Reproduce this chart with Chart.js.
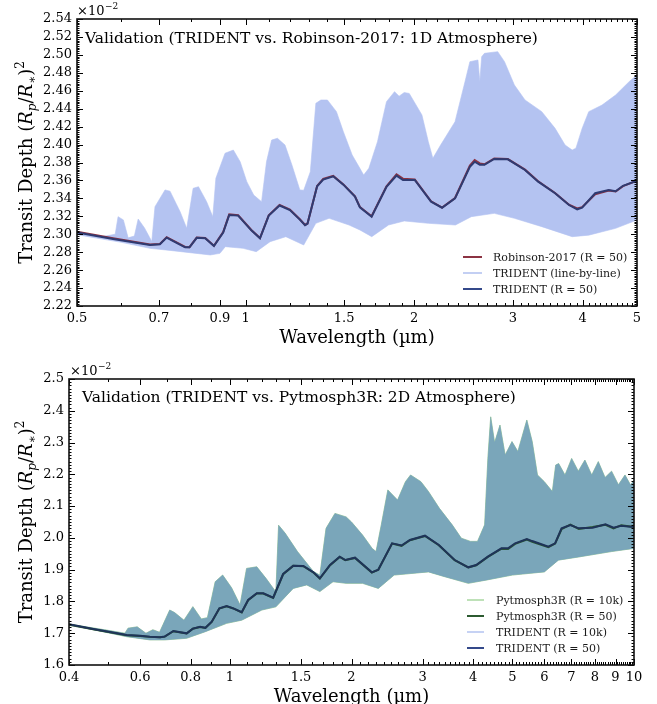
<!DOCTYPE html>
<html><head><meta charset="utf-8">
<script src="https://cdn.jsdelivr.net/npm/chart.js@4.4.0/dist/chart.umd.min.js"></script>
<style>
html,body{margin:0;padding:0;background:#fff;}
#wrap{position:relative;width:657px;height:704px;overflow:hidden;background:#fff;}
.box{position:absolute;left:0;width:657px;height:352px;}
canvas{display:block;}
</style></head><body>
<div id="wrap">
<div class="box" style="top:0"><canvas id="c1" width="657" height="352"></canvas></div>
<div class="box" style="top:352px"><canvas id="c2" width="657" height="352"></canvas></div>
</div>
<script>
// ---------- TOP PANEL DATA (values in units of 1e-2) ----------
const topXTicks = [0.5, 0.7, 0.9, 1, 1.5, 2, 3, 4, 5];
const topXTickLabels = ['0.5', '0.7', '0.9', '1', '1.5', '2', '3', '4', '5'];
const topYTicks = [2.22,2.24,2.26,2.28,2.30,2.32,2.34,2.36,2.38,2.40,2.42,2.44,2.46,2.48,2.50,2.52,2.54];
const topYTickLabels = ['2.22','2.24','2.26','2.28','2.30','2.32','2.34','2.36','2.38','2.40','2.42','2.44','2.46','2.48','2.50','2.52','2.54'];

const topR50Wl = [0.5,0.58,0.675,0.703,0.723,0.75,0.78,0.794,0.818,0.847,0.878,0.912,0.935,0.97,1.025,1.061,1.10,1.15,1.2,1.25,1.277,1.29,1.342,1.376,1.434,1.495,1.568,1.60,1.679,1.785,1.86,1.91,2.005,2.144,2.243,2.366,2.515,2.565,2.62,2.67,2.78,2.94,3.155,3.33,3.57,3.78,3.91,3.99,4.21,4.45,4.58,4.72,5.0];
const topTrident50 = [2.302,2.2947,2.288,2.2888,2.2962,2.291,2.2854,2.2854,2.296,2.2955,2.2868,2.302,2.3215,2.3208,2.3041,2.2955,2.3208,2.332,2.327,2.3163,2.31,2.3118,2.3535,2.361,2.3646,2.3553,2.3419,2.33,2.3196,2.353,2.3653,2.3605,2.3605,2.3363,2.3296,2.34,2.3753,2.3809,2.3775,2.3775,2.3839,2.3835,2.3717,2.3586,2.3457,2.3326,2.3278,2.3296,2.3457,2.3493,2.348,2.354,2.3597];
const topRobinson50 = [2.3028,2.2955,2.2885,2.2892,2.2968,2.2914,2.2858,2.2856,2.2963,2.2958,2.2872,2.3024,2.3222,2.3212,2.3045,2.2958,2.3212,2.3328,2.3275,2.3167,2.3104,2.312,2.3538,2.3618,2.365,2.3556,2.3422,2.3304,2.32,2.3534,2.3668,2.362,2.361,2.3368,2.3298,2.3404,2.3765,2.3828,2.379,2.378,2.3845,2.3838,2.372,2.359,2.346,2.333,2.3288,2.3302,2.3445,2.3488,2.3476,2.3536,2.3597];

const topLblUpWl = [0.5,0.55,0.585,0.592,0.605,0.617,0.633,0.643,0.66,0.68,0.689,0.718,0.733,0.764,0.785,0.806,0.824,0.852,0.874,0.885,0.919,0.951,0.978,1.005,1.034,1.068,1.09,1.113,1.14,1.176,1.21,1.25,1.27,1.305,1.335,1.363,1.40,1.453,1.495,1.55,1.60,1.625,1.66,1.72,1.785,1.845,1.88,1.92,1.96,2.065,2.12,2.16,2.23,2.366,2.465,2.515,2.6,2.62,2.64,2.67,2.82,2.9,3.02,3.155,3.38,3.57,3.72,3.83,3.89,3.99,4.1,4.33,4.58,4.84,5.0];
const topLblUp = [2.3035,2.297,2.300,2.3196,2.316,2.296,2.298,2.317,2.307,2.292,2.3307,2.3494,2.348,2.3252,2.3066,2.3512,2.353,2.3363,2.3196,2.3624,2.3903,2.3939,2.3809,2.3586,2.3437,2.3363,2.381,2.405,2.407,2.3995,2.3772,2.3494,2.349,2.3697,2.446,2.4497,2.4497,2.4367,2.4143,2.3884,2.3735,2.366,2.3735,2.4032,2.4478,2.459,2.454,2.458,2.457,2.433,2.4032,2.3847,2.3995,2.4255,2.4701,2.4924,2.4943,2.47,2.498,2.5017,2.5036,2.4924,2.4664,2.4497,2.4367,2.4181,2.3995,2.3939,2.396,2.418,2.4367,2.444,2.4553,2.4701,2.4776];
const topLblLowWl = [0.5,0.6,0.675,0.733,0.865,0.9,0.92,0.99,1.045,1.106,1.18,1.27,1.335,1.41,1.53,1.60,1.68,1.80,1.92,2.12,2.37,2.53,2.78,3.02,3.38,3.83,4.1,4.58,5.0];
const topLblLow = [2.2995,2.291,2.2843,2.282,2.2769,2.2787,2.2862,2.2843,2.2806,2.2917,2.2973,2.288,2.3122,2.3178,2.3103,2.3048,2.2973,2.3103,2.3148,2.3122,2.3103,2.3196,2.3233,2.3178,2.3085,2.2973,2.299,2.3066,2.3159];

// ---------- BOTTOM PANEL DATA ----------
const botXTicks = [0.4,0.6,0.8,1,1.5,2,3,4,5,6,7,8,9,10];
const botXTickLabels = ['0.4','0.6','0.8','1','1.5','2','3','4','5','6','7','8','9','10'];
const botYTicks = [1.6,1.7,1.8,1.9,2.0,2.1,2.2,2.3,2.4,2.5];
const botYTickLabels = ['1.6','1.7','1.8','1.9','2.0','2.1','2.2','2.3','2.4','2.5'];

const botR50Wl = [0.4,0.459,0.556,0.6,0.634,0.672,0.69,0.725,0.782,0.81,0.844,0.87,0.902,0.942,0.982,1.02,1.07,1.11,1.166,1.21,1.28,1.355,1.435,1.52,1.61,1.67,1.77,1.87,1.93,2.04,2.246,2.33,2.52,2.66,2.79,3.04,3.29,3.6,3.89,4.07,4.35,4.7,4.88,5.08,5.43,5.6,6.14,6.38,6.62,6.96,7.3,7.9,8.5,8.9,9.3,9.8,10];
const botTrident50 = [1.728,1.7133,1.6944,1.692,1.689,1.6876,1.6895,1.7069,1.6997,1.7145,1.7206,1.717,1.7363,1.7784,1.7856,1.7784,1.766,1.8045,1.8256,1.8256,1.8118,1.8864,1.9126,1.9116,1.8917,1.8728,1.9147,1.9408,1.9304,1.9377,1.8917,1.9,1.983,1.976,1.9934,2.007,1.9777,1.9304,1.9074,1.9147,1.9408,1.9672,1.9672,1.983,1.9965,1.990,1.9723,1.983,2.0302,2.0406,2.030,2.032,2.0426,2.032,2.038,2.035,2.035];
const botPyt50 = [1.727,1.7128,1.6938,1.6915,1.6885,1.687,1.6892,1.7062,1.6992,1.714,1.7198,1.7165,1.7355,1.7778,1.785,1.778,1.7655,1.804,1.825,1.825,1.8112,1.886,1.912,1.911,1.8912,1.8722,1.914,1.94,1.93,1.937,1.891,1.8995,1.982,1.975,1.9925,2.006,1.977,1.93,1.907,1.914,1.94,1.966,1.965,1.981,1.995,1.988,1.971,1.982,2.028,2.042,2.028,2.034,2.041,2.03,2.04,2.036,2.034];

const bot10kUpWl = [0.4,0.5,0.55,0.56,0.59,0.62,0.645,0.67,0.71,0.73,0.77,0.81,0.85,0.88,0.92,0.96,1.01,1.06,1.10,1.166,1.23,1.30,1.32,1.37,1.47,1.61,1.67,1.73,1.82,1.94,2.0,2.13,2.25,2.30,2.37,2.46,2.6,2.72,2.8,2.97,3.1,3.3,3.55,3.74,3.94,4.1,4.27,4.35,4.42,4.52,4.66,4.8,4.99,5.16,5.43,5.6,5.77,6.0,6.28,6.4,6.51,6.75,7.01,7.28,7.56,7.86,8.16,8.48,8.8,9.15,9.5,9.8,10];
const bot10kUp = [1.729,1.709,1.700,1.716,1.72,1.700,1.711,1.703,1.773,1.765,1.741,1.7836,1.745,1.749,1.862,1.883,1.843,1.789,1.904,1.909,1.872,1.83,2.040,2.015,1.957,1.894,1.883,2.030,2.077,2.066,2.05,2.009,1.967,1.957,2.041,2.151,2.119,2.177,2.198,2.177,2.146,2.093,2.041,1.999,1.989,1.989,2.041,2.2505,2.381,2.30,2.355,2.261,2.303,2.272,2.371,2.303,2.198,2.177,2.146,2.229,2.234,2.198,2.25,2.21,2.245,2.198,2.24,2.19,2.21,2.167,2.198,2.167,2.18];
const bot10kLowWl = [0.4,0.556,0.634,0.69,0.782,0.87,0.982,1.07,1.2,1.3,1.435,1.55,1.67,1.8,1.94,2.13,2.33,2.55,3.1,3.4,3.89,4.3,5.0,6.0,6.5,7.3,8.8,10];
const bot10kLow = [1.727,1.689,1.679,1.679,1.684,1.705,1.731,1.741,1.773,1.783,1.841,1.852,1.831,1.862,1.857,1.857,1.841,1.883,1.893,1.878,1.857,1.867,1.883,1.893,1.93,1.94,1.957,1.967];

// ---------- helpers ----------
const pts = (xs, ys) => xs.map((x, i) => ({x, y: ys[i]}));
const band = (upX, upY, loX, loY) => pts(upX, upY).concat(pts(loX, loY).reverse());
const FONT = '"DejaVu Serif", "Liberation Serif", serif';

function minorList(lo, hi, step) {
  const out = [];
  for (let k = Math.round(lo / step); k * step <= hi + 1e-9; k++) out.push(+(k * step).toFixed(6));
  return out;
}
function tenthsBetween(lo, hi) { const o=[]; for (let k=Math.round(lo*10);k<=Math.round(hi*10);k++) o.push(+(k*0.1).toFixed(3)); return o; }

function drawYTitle(ctx, cx, cy) {
  const big = '18px ' + FONT, bigI = 'italic 18px ' + FONT, sm = '12px ' + FONT, smI = 'italic 12px ' + FONT;
  const parts = [['Transit Depth (', big, 0], ['R', bigI, 0], ['p', smI, 4], ['/', big, 0], ['R', bigI, 0], ['\u2217', sm, 4], [')', big, 0], ['2', sm, -8]];
  ctx.save();
  ctx.translate(cx, cy); ctx.rotate(-Math.PI / 2);
  ctx.textAlign = 'left'; ctx.textBaseline = 'alphabetic'; ctx.fillStyle = '#000';
  let tot = 0;
  parts.forEach(p => { ctx.font = p[1]; tot += ctx.measureText(p[0]).width; });
  let x = -tot / 2;
  parts.forEach(p => { ctx.font = p[1]; ctx.fillText(p[0], x, 6 + p[2]); x += ctx.measureText(p[0]).width; });
  ctx.restore();
}

function makeDecor(cfg) {
  return {
    id: 'decor',
    afterDraw(chart) {
      const ctx = chart.ctx, a = chart.chartArea, xs = chart.scales.x, ys = chart.scales.y;
      ctx.save();
      ctx.strokeStyle = '#000'; ctx.lineWidth = 1;
      const seg = (x1, y1, x2, y2) => { ctx.beginPath(); ctx.moveTo(x1, y1); ctx.lineTo(x2, y2); ctx.stroke(); };
      cfg.xMinor.forEach(v => { const p = Math.round(xs.getPixelForValue(v)) + 0.5; seg(p, a.bottom, p, a.bottom - 3); seg(p, a.top, p, a.top + 3); });
      cfg.xMajor.forEach(v => { const p = Math.round(xs.getPixelForValue(v)) + 0.5; seg(p, a.bottom, p, a.bottom - 6); seg(p, a.top, p, a.top + 6); });
      cfg.yMinor.forEach(v => { const p = Math.round(ys.getPixelForValue(v)) + 0.5; seg(a.left, p, a.left + 2.5, p); seg(a.right, p, a.right - 2.5, p); });
      cfg.yMajor.forEach(v => { const p = Math.round(ys.getPixelForValue(v)) + 0.5; seg(a.left, p, a.left + 6, p); seg(a.right, p, a.right - 6, p); });
      ctx.lineWidth = 1.6; ctx.strokeStyle = '#111';
      ctx.strokeRect(a.left, a.top, a.right - a.left, a.bottom - a.top);
      ctx.fillStyle = '#000'; ctx.textAlign = 'left'; ctx.textBaseline = 'alphabetic';
      ctx.font = '13px ' + FONT; ctx.fillText('\u00d710', cfg.expX, cfg.expY);
      const w = ctx.measureText('\u00d710').width;
      ctx.font = '9px ' + FONT; ctx.fillText('\u22122', cfg.expX + w + 0.5, cfg.expY - 6);
      ctx.font = '15.5px ' + FONT; ctx.fillText(cfg.title, cfg.titleX, cfg.titleY);
      ctx.font = '18px ' + FONT; ctx.textAlign = 'center';
      ctx.fillText('Wavelength (\u00b5m)', (a.left + a.right) / 2, cfg.xTitleY);
      drawYTitle(ctx, cfg.yTitleX, (a.top + a.bottom) / 2);
      ctx.textAlign = 'left'; ctx.textBaseline = 'middle'; ctx.font = '11px ' + FONT;
      const items = chart.data.datasets.filter(d => d.legendColor);
      items.forEach((d, i) => {
        const yy = cfg.legY + i * cfg.legDy;
        ctx.strokeStyle = d.legendColor; ctx.lineWidth = d.legendWidth;
        seg(cfg.legX1, yy, cfg.legX2, yy);
        ctx.fillStyle = '#1a1a1a'; ctx.fillText(d.label, cfg.legTX, yy + 1);
      });
      ctx.restore();
    }
  };
}

function scalesFor(xmin, xmax, xt, xl, ymin, ymax, yt, yl, yw, xh) {
  return {
    x: {
      type: 'logarithmic', min: xmin, max: xmax,
      afterBuildTicks: s => { s.ticks = xt.map(v => ({value: v})); },
      afterFit: s => { s.height = xh; },
      ticks: { autoSkip: false, maxRotation: 0, padding: 5, color: '#000', font: {family: FONT, size: 13},
               callback: (v, i) => xl[i] },
      grid: { display: false, drawTicks: false }, border: { display: false }
    },
    y: {
      type: 'linear', min: ymin, max: ymax,
      afterBuildTicks: s => { s.ticks = yt.map(v => ({value: v})); },
      afterFit: s => { s.width = yw; },
      ticks: { autoSkip: false, padding: 5, color: '#000', font: {family: FONT, size: 13},
               callback: (v, i) => yl[i] },
      grid: { display: false, drawTicks: false }, border: { display: false }
    }
  };
}

const common = {
  responsive: false, animation: false, devicePixelRatio: 1,
  elements: { point: { radius: 0 }, line: { tension: 0 } },
  plugins: { legend: { display: false }, tooltip: { enabled: false } }
};

new Chart(document.getElementById('c1'), {
  type: 'line',
  data: {
    datasets: [
      { label: 'Robinson-2017 (R = 50)', data: pts(topR50Wl, topRobinson50), borderColor: '#8c3343', borderWidth: 2, fill: false, order: 2,
        legendColor: '#8c3343', legendWidth: 2 },
      { label: 'TRIDENT (line-by-line)', data: band(topLblUpWl, topLblUp, topLblLowWl, topLblLow), borderColor: 'rgba(180,195,241,1)', borderWidth: 0.6,
        backgroundColor: '#b4c3f1', fill: 'shape', order: 3, legendColor: '#c3cff3', legendWidth: 2 },
      { label: 'TRIDENT (R = 50)', data: pts(topR50Wl, topTrident50), borderColor: '#2f3b72', borderWidth: 2, fill: false, order: 1,
        legendColor: '#34498a', legendWidth: 2 }
    ]
  },
  options: Object.assign({}, common, {
    layout: { padding: { left: 0, right: 20, top: 19, bottom: 0 } },
    scales: scalesFor(0.5, 5, topXTicks, topXTickLabels, 2.22, 2.54, topYTicks, topYTickLabels, 77, 46)
  }),
  plugins: [makeDecor({
    xMinor: tenthsBetween(0.5, 5), xMajor: topXTicks, yMinor: minorList(2.22, 2.54, 0.002), yMajor: topYTicks,
    expX: 77, expY: 15, title: 'Validation (TRIDENT vs. Robinson-2017: 1D Atmosphere)', titleX: 85, titleY: 43,
    xTitleY: 343, yTitleX: 26, legX1: 463, legX2: 482, legTX: 493, legY: 257, legDy: 16
  })]
});

new Chart(document.getElementById('c2'), {
  type: 'line',
  data: {
    datasets: [
      { label: 'Pytmosph3R (R = 10k)', data: band(bot10kUpWl, bot10kUp, bot10kLowWl, bot10kLow), borderColor: 'rgba(150,200,140,1)', borderWidth: 0.8,
        backgroundColor: 'rgb(150,200,140)', fill: 'shape', order: 5, legendColor: '#a9d7a0', legendWidth: 1.5 },
      { label: 'Pytmosph3R (R = 50)', data: pts(botR50Wl, botPyt50), borderColor: '#2c5a30', borderWidth: 2, fill: false, order: 2,
        legendColor: '#2c5a30', legendWidth: 2 },
      { label: 'TRIDENT (R = 10k)', data: band(bot10kUpWl, bot10kUp, bot10kLowWl, bot10kLow), borderColor: 'rgba(105,145,215,0.3)', borderWidth: 0.5,
        backgroundColor: 'rgba(105,145,215,0.62)', fill: 'shape', order: 4, legendColor: '#b3c3f1', legendWidth: 1.5 },
      { label: 'TRIDENT (R = 50)', data: pts(botR50Wl, botTrident50), borderColor: '#1f3459', borderWidth: 2, fill: false, order: 1,
        legendColor: '#34498a', legendWidth: 2 }
    ]
  },
  options: Object.assign({}, common, {
    layout: { padding: { left: 0, right: 23, top: 27, bottom: 0 } },
    scales: scalesFor(0.4, 10, botXTicks, botXTickLabels, 1.6, 2.5, botYTicks, botYTickLabels, 69, 39)
  }),
  plugins: [makeDecor({
    xMinor: tenthsBetween(0.4, 10), xMajor: botXTicks, yMinor: minorList(1.6, 2.5, 0.01), yMajor: botYTicks,
    expX: 70, expY: 23, title: 'Validation (TRIDENT vs. Pytmosph3R: 2D Atmosphere)', titleX: 82, titleY: 50,
    xTitleY: 350, yTitleX: 26, legX1: 467, legX2: 484, legTX: 496, legY: 248, legDy: 16
  })]
});
</script>
</body></html>
